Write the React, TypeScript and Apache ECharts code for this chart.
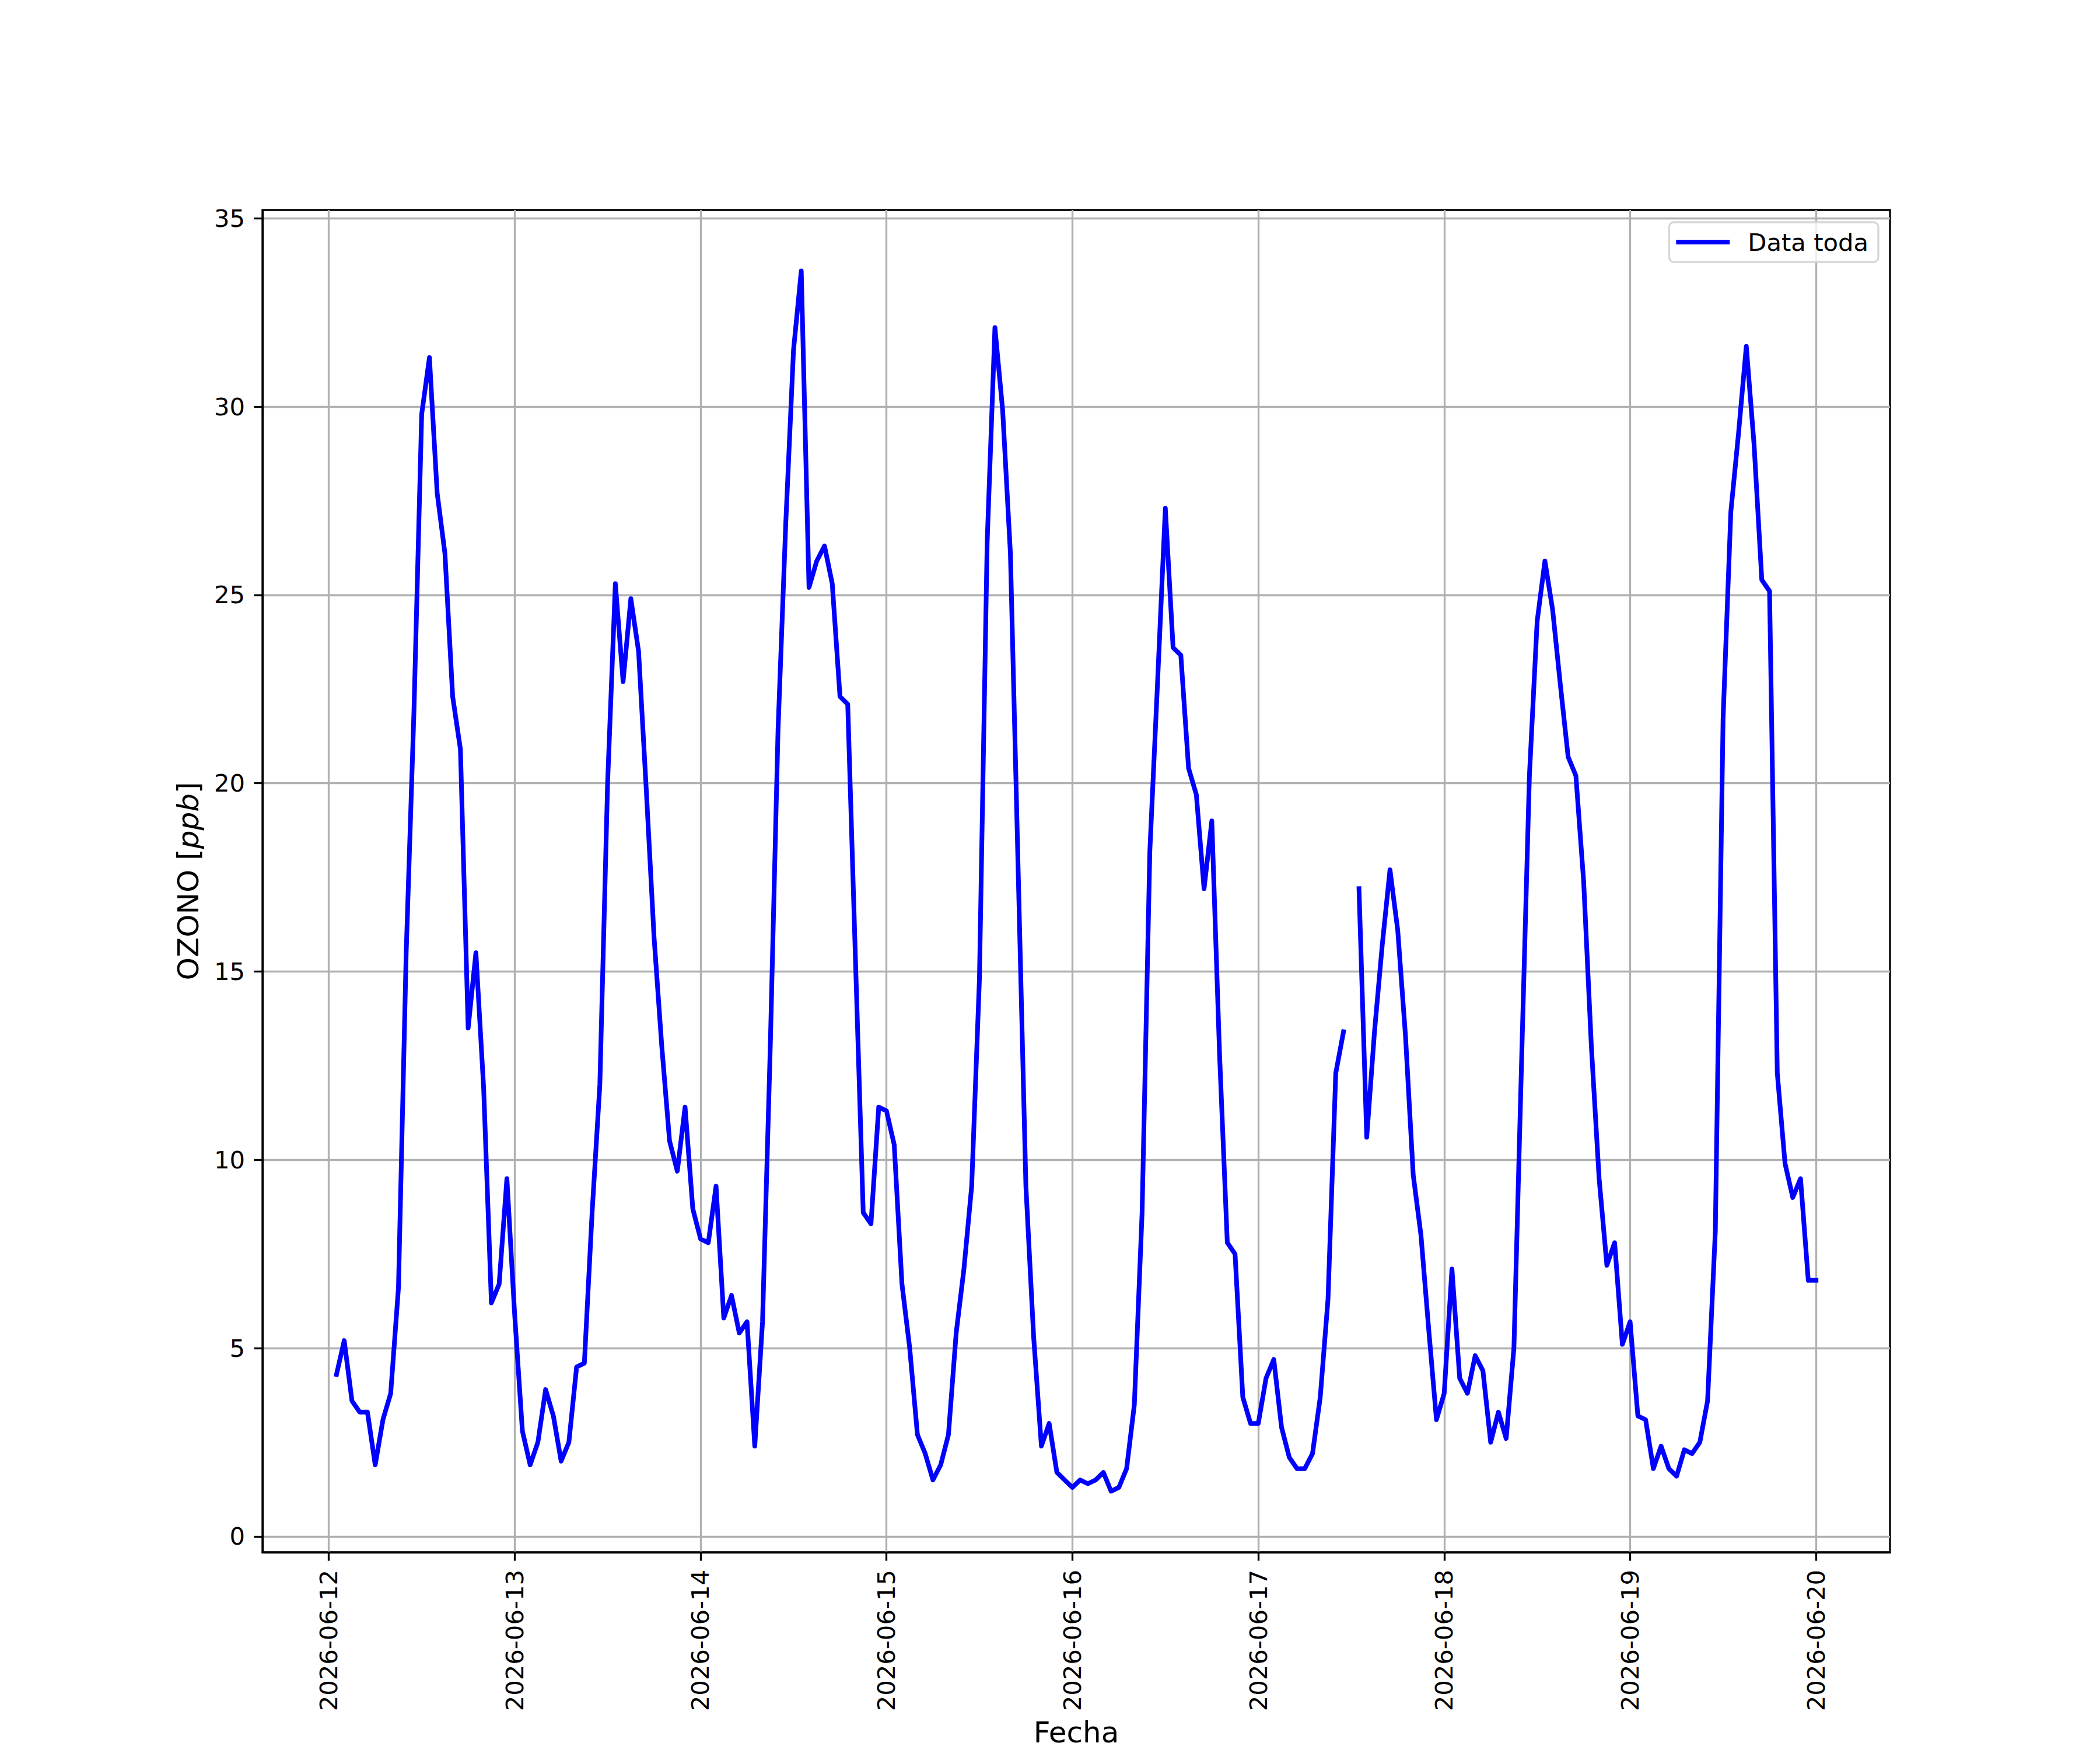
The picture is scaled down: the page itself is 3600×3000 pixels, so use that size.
import React, { useEffect, useRef } from "react";
import * as echarts from "echarts";

// Hourly ozone values (ppb). First value is 2026-06-12 01:00, last is 2026-06-20 00:00.
const day12 = [4.3, 5.2, 3.6, 3.3, 3.3, 1.9, 3.1, 3.8, 6.6, 15.5, 21.9, 29.8, 31.3, 27.7, 26.1, 22.3, 20.9, 13.5, 15.5, 11.9, 6.2, 6.7, 9.5];
const day13 = [5.9, 2.8, 1.9, 2.5, 3.9, 3.2, 2.0, 2.5, 4.5, 4.6, 8.6, 12.0, 20.0, 25.3, 22.7, 24.9, 23.5, 19.8, 15.9, 13.0, 10.5, 9.7, 11.4, 8.7];
const day14 = [7.9, 7.8, 9.3, 5.8, 6.4, 5.4, 5.7, 2.4, 5.7, 13.0, 21.4, 26.9, 31.5, 33.6, 25.2, 25.9, 26.3, 25.3, 22.3, 22.1, 15.3, 8.6, 8.3, 11.4];
const day15 = [11.3, 10.4, 6.7, 5.0, 2.7, 2.2, 1.5, 1.9, 2.7, 5.4, 7.1, 9.3, 14.8, 26.4, 32.1, 29.9, 26.1, 17.7, 9.3, 5.3, 2.4, 3.0, 1.7, 1.5];
const day16 = [1.3, 1.5, 1.4, 1.5, 1.7, 1.2, 1.3, 1.8, 3.5, 8.6, 18.2, 22.7, 27.3, 23.6, 23.4, 20.4, 19.7, 17.2, 19.0, 12.8, 7.8, 7.5, 3.7, 3.0];
const day17 = [3.0, 4.2, 4.7, 2.9, 2.1, 1.8, 1.8, 2.2, 3.7, 6.3, 12.3, 13.4, null, 17.2, 10.6, 13.4, 15.7, 17.7, 16.1, 13.3, 9.6, 8.0, 5.5, 3.1];
const day18 = [3.8, 7.1, 4.2, 3.8, 4.8, 4.4, 2.5, 3.3, 2.6, 5.0, 12.7, 20.2, 24.3, 25.9, 24.6, 22.6, 20.7, 20.2, 17.4, 13.0, 9.5, 7.2, 7.8, 5.1];
const day19 = [5.7, 3.2, 3.1, 1.8, 2.4, 1.8, 1.6, 2.3, 2.2, 2.5, 3.6, 8.1, 21.7, 27.2, 29.3, 31.6, 29.0, 25.4, 25.1, 12.3, 9.9, 9.0, 9.5, 6.8];
const day20 = [6.8];

// Tick labels (one per day at 00:00)
const tickLabels = ["2026-06-12", "2026-06-13", "2026-06-14", "2026-06-15", "2026-06-16", "2026-06-17", "2026-06-18", "2026-06-19", "2026-06-20"];
const yTicks = [0, 5, 10, 15, 20, 25, 30, 35];
const seriesName = "Data toda";

const FIRST_HOUR = 1; // hours after 2026-06-12 00:00

export default function App() {
  const ref = useRef<HTMLDivElement>(null);

  useEffect(() => {
    document.body.style.margin = "0";
    if (!ref.current) return;
    const chart = echarts.init(ref.current, undefined, { renderer: "svg" });

    const values = [...day12, ...day13, ...day14, ...day15, ...day16, ...day17, ...day18, ...day19, ...day20];
    const data = values.map((v, i) => [FIRST_HOUR + i, v === null ? "-" : v]);
    const xTickValues = tickLabels.map((_, i) => i * 24);

    const font = "DejaVu Sans";
    const tickFs = 41.7;
    const labelFs = 50;
    const lw = 3.3;

    chart.setOption({
      animation: false,
      backgroundColor: "#ffffff",
      textStyle: { fontFamily: font },
      grid: {
        left: 450,
        right: 360,
        top: 360,
        bottom: 330,
        show: true,
        borderColor: "#000000",
        borderWidth: lw,
        backgroundColor: "transparent",
      },
      legend: {
        show: true,
        data: [seriesName],
        right: 380,
        top: 381,
        orient: "vertical",
        icon: "rect",
        itemWidth: 92,
        itemHeight: 8,
        padding: [13, 17, 13, 12],
        borderColor: "#d6d6d6",
        borderWidth: lw,
        borderRadius: 8,
        backgroundColor: "rgba(255,255,255,0.8)",
        textStyle: {
          fontFamily: font,
          fontSize: tickFs,
          color: "#000000",
          padding: [0, 0, 0, 26],
        },
      },
      xAxis: {
        type: "value",
        min: -8.55,
        max: 201.55,
        name: "Fecha",
        nameLocation: "middle",
        nameGap: 284,
        nameTextStyle: { fontFamily: font, fontSize: labelFs, color: "#000000", verticalAlign: "top" },
        axisLine: { show: true, onZero: false, lineStyle: { color: "#000000", width: lw } },
        axisTick: {
          show: true,
          inside: false,
          length: 14.6,
          lineStyle: { color: "#000000", width: lw },
          customValues: xTickValues,
        },
        axisLabel: {
          show: true,
          rotate: 90,
          margin: 30,
          fontFamily: font,
          fontSize: tickFs,
          color: "#000000",
          customValues: xTickValues,
          formatter: (v: number) => tickLabels[Math.round(v / 24)] ?? "",
        },
        splitLine: { show: true, lineStyle: { color: "#b0b0b0", width: lw } },
      },
      yAxis: {
        type: "value",
        min: -0.42,
        max: 35.22,
        name: "{a|OZONO [}{b|ppb}{a|]}",
        nameLocation: "middle",
        nameGap: 102,
        nameRotate: 90,
        nameTextStyle: {
          fontFamily: font,
          fontSize: labelFs,
          color: "#000000",
          rich: {
            a: { fontFamily: font, fontSize: labelFs, color: "#000000" },
            b: { fontFamily: font, fontSize: labelFs, color: "#000000", fontStyle: "italic" },
          },
        },
        axisLine: { show: true, onZero: false, lineStyle: { color: "#000000", width: lw } },
        axisTick: {
          show: true,
          inside: false,
          length: 14.6,
          lineStyle: { color: "#000000", width: lw },
          customValues: yTicks,
        },
        axisLabel: {
          show: true,
          margin: 30,
          fontFamily: font,
          fontSize: tickFs,
          color: "#000000",
          customValues: yTicks,
        },
        splitLine: { show: true, lineStyle: { color: "#b0b0b0", width: lw } },
      },
      series: [
        {
          name: seriesName,
          type: "line",
          data,
          symbol: "none",
          showSymbol: false,
          connectNulls: false,
          color: "#0000ff",
          itemStyle: { color: "#0000ff" },
          lineStyle: { color: "#0000ff", width: 8, join: "round", cap: "square" },
          z: 5,
        },
      ],
    });

    return () => chart.dispose();
  }, []);

  return <div ref={ref} style={{ width: 3600, height: 3000 }} />;
}
